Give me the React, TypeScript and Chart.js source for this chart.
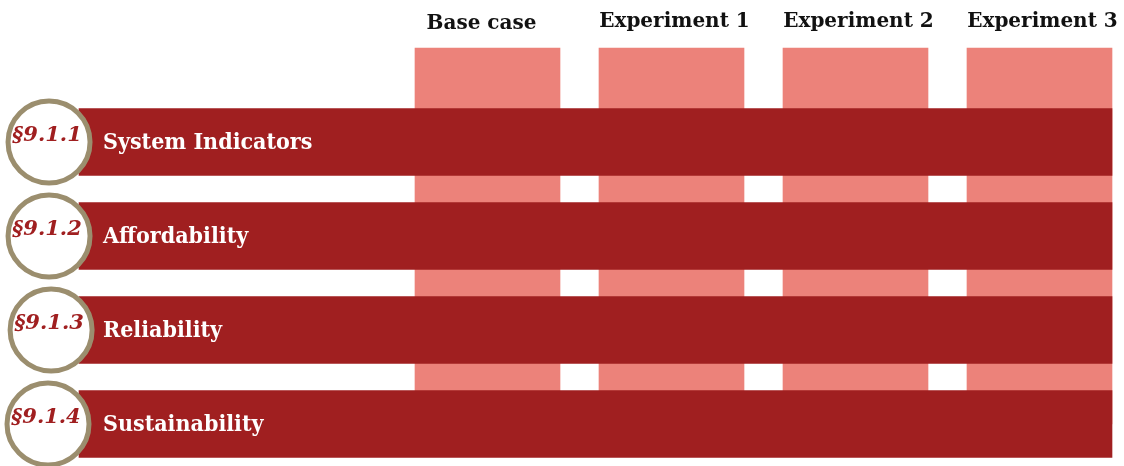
import React, { useEffect, useRef } from "react";
import { Chart, registerables } from "chart.js";

Chart.register(...registerables);

// ---- data ----
const columnLabels = ["Base case", "Experiment 1", "Experiment 2", "Experiment 3"];
const columnIndex = [0, 1, 2, 3];
const columnTop = [-1, -1, -1, -1]; // header row
const columnBottom = [3, 3, 3, 3]; // last section row
const sectionNumbers = ["§9.1.1", "§9.1.2", "§9.1.3", "§9.1.4"];
const sectionTitles = ["System Indicators", "Affordability", "Reliability", "Sustainability"];
const sectionRow = [0, 1, 2, 3];
const bandStart = [0, 0, 0, 0];
const bandEnd = [1, 1, 1, 1];
const badgeX = [-0.029, -0.029, -0.027, -0.03];

const DARK_RED = "#A01F20";
const PINK = "#EC827A";
const TAN = "#9B8E6E";
const SERIF_COND = '"DejaVu Serif Condensed", "DejaVu Serif", serif';
const SERIF = '"DejaVu Serif", serif';

const textPlugin = {
  id: "diagramText",
  afterDatasetsDraw(chart: any) {
    const ctx = chart.ctx;
    const xs = chart.scales.x;
    const ys = chart.scales.y;
    const x2 = chart.scales.x2;
    const y2 = chart.scales.y2;
    ctx.save();
    // column headers
    ctx.font = `bold 20px ${SERIF}`;
    ctx.fillStyle = "#111111";
    ctx.textAlign = "center";
    ctx.textBaseline = "middle";
    columnLabels.forEach((lab, i) => {
      const cx = xs.getPixelForValue(columnIndex[i]) + (i === 0 ? -6 : 3);
      const ty = ys.getPixelForValue(columnTop[i]) - (i === 0 ? 24 : 26);
      ctx.fillText(lab, cx, ty);
    });
    // section titles
    ctx.font = `bold 23px ${SERIF_COND}`;
    ctx.fillStyle = "#FFFFFF";
    ctx.textAlign = "left";
    sectionTitles.forEach((t, i) => {
      const sx = x2.getPixelForValue(bandStart[i]) + 24;
      const sy = y2.getPixelForValue(sectionRow[i]) + 1;
      ctx.fillText(t, sx, sy);
    });
    // section numbers
    ctx.font = `italic bold 21px ${SERIF}`;
    ctx.fillStyle = DARK_RED;
    ctx.textAlign = "center";
    sectionNumbers.forEach((t, i) => {
      const sx = x2.getPixelForValue(badgeX[i]) - 2;
      const sy = y2.getPixelForValue(sectionRow[i]) - 6;
      ctx.fillText(t, sx, sy);
    });
    ctx.restore();
  },
};

export default function App() {
  const canvasRef = useRef<HTMLCanvasElement | null>(null);

  useEffect(() => {
    if (!canvasRef.current) return;
    const chart = new Chart(canvasRef.current, {
      type: "bar",
      data: {
        datasets: [
          {
            type: "scatter",
            label: "badges",
            data: sectionRow.map((r, i) => ({ x: badgeX[i], y: r })),
            xAxisID: "x2",
            yAxisID: "y2",
            pointRadius: 41,
            pointHoverRadius: 41,
            borderWidth: 5,
            pointBorderWidth: 5,
            borderColor: TAN,
            pointBorderColor: TAN,
            backgroundColor: "#FFFFFF",
            pointBackgroundColor: "#FFFFFF",
            order: 0,
            clip: false,
          } as any,
          {
            type: "bar",
            label: "sections",
            indexAxis: "y",
            data: sectionRow.map((r, i) => ({ y: r, x: [bandStart[i], bandEnd[i]] })),
            xAxisID: "x2",
            yAxisID: "y2",
            backgroundColor: DARK_RED,
            borderWidth: 0,
            barThickness: 67,
            grouped: false,
            order: 1,
            clip: false,
          } as any,
          {
            type: "bar",
            label: "columns",
            indexAxis: "x",
            data: columnIndex.map((c, i) => ({ x: c, y: [columnBottom[i], columnTop[i]] })),
            xAxisID: "x",
            yAxisID: "y",
            backgroundColor: PINK,
            borderWidth: 0,
            barThickness: 145,
            grouped: false,
            order: 2,
            clip: false,
          } as any,
        ],
      },
      options: {
        animation: false,
        responsive: false,
        devicePixelRatio: 1,
        layout: { padding: 0, autoPadding: false },
        plugins: {
          legend: { display: false },
          tooltip: { enabled: false },
        },
        events: [],
        scales: {
          x: { type: "linear", display: false, offset: false, min: -487.5 / 184, max: (1124 - 487.5) / 184 },
          y: { type: "linear", display: false, offset: false, reverse: true, min: -142 / 94, max: (466 - 142) / 94 },
          x2: { type: "linear", display: false, offset: false, min: -79 / 1033, max: (1124 - 79) / 1033 },
          y2: { type: "linear", display: false, offset: false, reverse: true, min: -142 / 94, max: (466 - 142) / 94 },
        },
      } as any,
      plugins: [textPlugin],
    });
    return () => chart.destroy();
  }, []);

  return (
    <div style={{ position: "absolute", left: 0, top: 0, width: 1124, height: 466, background: "#fff" }}>
      <canvas ref={canvasRef} width={1124} height={466} style={{ display: "block" }} />
    </div>
  );
}
